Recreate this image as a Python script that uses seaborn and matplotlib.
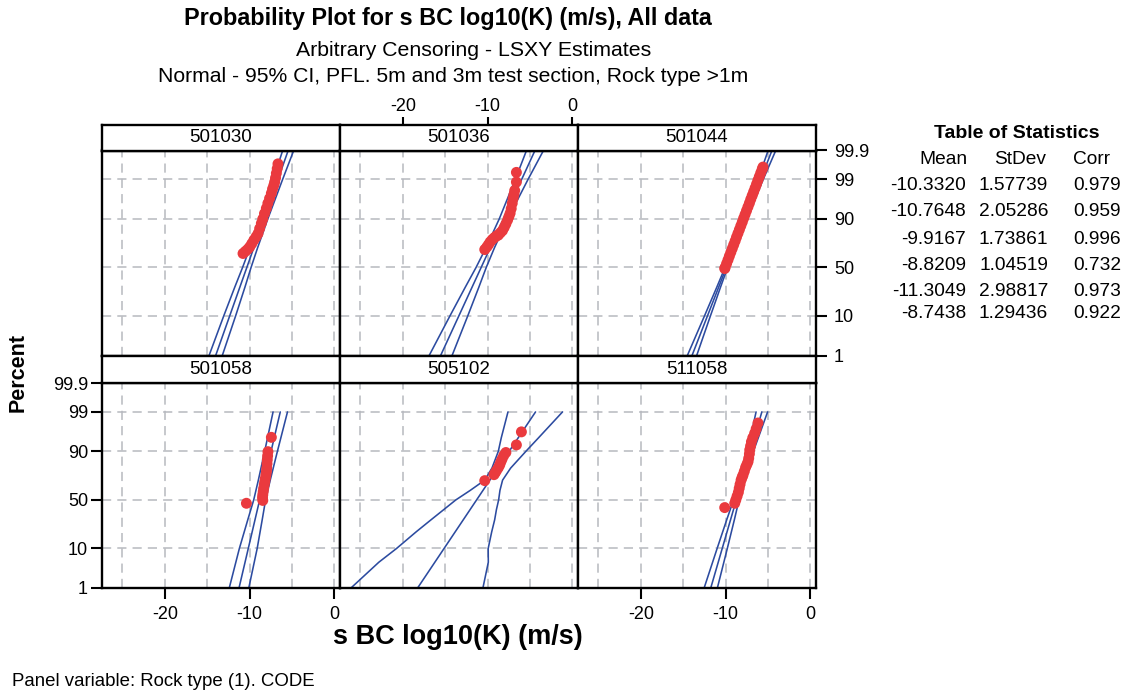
import numpy as np
import pandas as pd
import matplotlib
matplotlib.use("Agg")
import matplotlib.pyplot as plt
import seaborn as sns
from statistics import NormalDist

sns.set_style("white")
plt.rcParams["font.family"] = ["Liberation Sans", "DejaVu Sans"]
plt.rcParams["axes.unicode_minus"] = False
for key in ["text.color", "xtick.color", "ytick.color", "axes.labelcolor"]:
    plt.rcParams[key] = "black"

# ---------------- data ----------------
panels = ["501030", "501036", "501044", "501058", "505102", "511058"]
means = [-10.3320, -10.7648, -9.9167, -8.8209, -11.3049, -8.7438]
stdevs = [1.57739, 2.05286, 1.73861, 1.04519, 2.98817, 1.29436]
corrs = [0.979, 0.959, 0.996, 0.732, 0.973, 0.922]
mean_labels = ["-10.3320", "-10.7648", "-9.9167", "-8.8209", "-11.3049", "-8.7438"]
stdev_labels = ["1.57739", "2.05286", "1.73861", "1.04519", "2.98817", "1.29436"]
corr_labels = ["0.979", "0.959", "0.996", "0.732", "0.973", "0.922"]

# plotted points (value, percent)
x_501030 = [-10.78, -10.50, -10.22, -9.99, -9.75, -9.50, -9.25, -9.01, -8.82, -8.62, -8.45, -8.25,
            -8.03, -7.85, -7.65, -7.44, -7.30, -7.15, -7.05, -6.95, -6.85, -6.75, -6.66]
p_501030 = [64.4, 66.5, 68.5, 70.6, 73.5, 76.5, 79.0, 81.5, 84.8, 87.8, 90.0, 92.3,
            94.1, 95.5, 96.6, 97.5, 98.1, 98.5, 98.8, 99.1, 99.36, 99.55, 99.69]
x_501036 = [-10.34, -10.10, -9.90, -9.70, -9.45, -9.20, -8.95, -8.75, -8.50, -8.25, -8.05, -7.85,
            -7.65, -7.50, -7.35, -7.22, -7.10, -7.00, -6.90, -6.81, -6.61, -6.61]
p_501036 = [68.2, 70.5, 72.7, 75.0, 77.0, 78.5, 79.8, 80.3, 82.0, 83.5, 85.5, 87.5,
            89.5, 91.0, 92.4, 94.0, 95.5, 96.6, 97.3, 97.9, 98.8, 99.4]
x_501044 = [-10.11, -10.06, -9.89, -9.72, -9.56, -9.39, -9.22, -9.05, -8.88, -8.72, -8.55, -8.38,
            -8.21, -8.04, -7.88, -7.71, -7.54, -7.37, -7.20, -7.04, -6.87, -6.70, -6.53, -6.36,
            -6.20, -6.03, -5.86, -5.69, -5.60]
p_501044 = [48.8, 50.0, 53.98, 57.93, 61.79, 65.54, 69.15, 72.57, 75.80, 78.81, 81.59, 84.13,
            86.43, 88.49, 90.32, 91.92, 93.32, 94.52, 95.54, 96.41, 97.13, 97.72, 98.21, 98.61,
            98.93, 99.18, 99.38, 99.53, 99.60]
x_501058 = [-10.38, -8.45, -8.48, -8.45, -8.40, -8.35, -8.28, -8.22, -8.15, -8.08, -8.02, -7.98,
            -7.95, -7.92, -7.88, -7.84, -7.44]
p_501058 = [46.5, 49.5, 52.5, 55.5, 58.7, 62.0, 65.5, 68.5, 71.5, 74.5, 77.3, 80.0,
            83.0, 85.5, 87.8, 89.9, 95.1]
x_505102 = [-10.34, -9.25, -9.10, -8.95, -8.75, -8.58, -8.45, -8.30, -8.10, -7.85, -6.61, -6.02]
p_505102 = [69.5, 74.8, 76.5, 78.2, 80.2, 82.2, 84.2, 86.0, 88.0, 89.5, 92.7, 96.4]
x_511058 = [-10.11, -8.93, -8.80, -8.65, -8.50, -8.40, -8.30, -8.18, -8.06, -7.95, -7.80, -7.65,
            -7.50, -7.36, -7.28, -7.20, -7.16, -7.06, -6.96, -6.80, -6.58, -6.40, -6.19]
p_511058 = [42.0, 46.5, 50.0, 54.0, 58.0, 62.1, 66.0, 70.0, 72.5, 74.5, 77.5, 80.5,
            82.5, 84.4, 86.5, 88.8, 90.7, 92.3, 93.8, 95.0, 96.1, 97.0, 97.9]

# 95% CI half-widths at percent levels
ci_pct_top = [1, 10, 30, 50, 70, 90, 99, 99.9]
ci_pct_bottom = [1, 10, 30, 50, 70, 90, 99]
ci_pct_505102 = [1, 5, 10, 20, 30, 40, 50, 60, 70, 80, 90, 95, 99]
ci_lo_501030 = [0.78, 0.70, 0.60, 0.50, 0.45, 0.45, 0.55, 0.65]
ci_hi_501030 = [0.78, 0.70, 0.60, 0.50, 0.45, 0.45, 0.55, 0.65]
ci_lo_501036 = [1.35, 1.05, 0.80, 0.60, 0.50, 0.50, 0.75, 1.00]
ci_hi_501036 = [1.35, 1.05, 0.80, 0.60, 0.50, 0.50, 0.75, 1.00]
ci_lo_501044 = [0.55, 0.35, 0.22, 0.15, 0.15, 0.20, 0.30, 0.45]
ci_hi_501044 = [0.55, 0.35, 0.22, 0.15, 0.15, 0.20, 0.30, 0.45]
ci_lo_501058 = [1.15, 1.05, 0.85, 0.70, 0.70, 0.75, 0.85]
ci_hi_501058 = [1.15, 1.05, 0.85, 0.70, 0.70, 0.75, 0.85]
ci_lo_505102 = [7.85, 6.60, 5.60, 4.60, 3.80, 3.10, 2.45, 1.50, 0.60, 0.70, 1.27, 2.00, 3.25]
ci_hi_505102 = [7.70, 6.30, 5.20, 4.30, 3.70, 3.10, 2.60, 2.00, 1.50, 1.50, 1.97, 2.40, 3.18]
ci_lo_511058 = [0.78, 0.60, 0.45, 0.32, 0.28, 0.35, 0.68]
ci_hi_511058 = [0.78, 0.60, 0.45, 0.32, 0.28, 0.35, 0.68]

xs_pts = [x_501030, x_501036, x_501044, x_501058, x_505102, x_511058]
ps_pts = [p_501030, p_501036, p_501044, p_501058, p_505102, p_511058]
ci_pcts = [ci_pct_top, ci_pct_top, ci_pct_top, ci_pct_bottom, ci_pct_505102, ci_pct_bottom]
ci_los = [ci_lo_501030, ci_lo_501036, ci_lo_501044, ci_lo_501058, ci_lo_505102, ci_lo_511058]
ci_his = [ci_hi_501030, ci_hi_501036, ci_hi_501044, ci_hi_501058, ci_hi_505102, ci_hi_511058]

x_ticks = [-20, -10, 0]
x_tick_labels = ["-20", "-10", "0"]
y_ticks_pct = [1, 10, 50, 90, 99, 99.9]
y_tick_labels = ["1", "10", "50", "90", "99", "99.9"]
x_grid = [-25, -20, -15, -10, -5, 0]
y_grid_pct = [10, 50, 90, 99]

# ---------------- style ----------------
RED = "#ea3a3e"
BLUE = "#2c4ba0"
GRID = "#b7b9bf"
W, H = 1128, 692
XLIM = (-27.4, 0.65)
nd = NormalDist()
zq = lambda p: nd.inv_cdf(p / 100.0)
ZLIM = (zq(1), zq(99.9))
TICK_FS = 13

fig = plt.figure(figsize=(W / 100, H / 100), dpi=100)


def rect(l, t, r, b):
    return [l / W, 1 - b / H, (r - l) / W, (b - t) / H]


col_left = [102, 340, 578]
col_w = 238
row_plot = [(150.5, 355.5), (383, 588)]
row_head = [(125, 150.5), (355.5, 383)]

for i, name in enumerate(panels):
    r, c = divmod(i, 3)
    l = col_left[c]
    ax = fig.add_axes(rect(l, row_plot[r][0], l + col_w, row_plot[r][1]))
    hax = fig.add_axes(rect(l, row_head[r][0], l + col_w, row_head[r][1]))
    for a in (ax, hax):
        a.set_xlim(*XLIM)
        a.set_facecolor("white")
        for s in a.spines.values():
            s.set_linewidth(1.7)
            s.set_color("black")
        a.tick_params(which="both", bottom=False, top=False, left=False, right=False,
                      labelbottom=False, labeltop=False, labelleft=False, labelright=False)
    ax.set_ylim(*ZLIM)
    hax.set_ylim(0, 1)
    hax.set_yticks([])
    hax.text(0.5, 0.5, name, transform=hax.transAxes, ha="center", va="center", fontsize=13.5)

    # grid
    for g in x_grid:
        ax.axvline(g, color=GRID, lw=1.1, ls=(0, (6, 4)), zorder=0)
    for g in y_grid_pct:
        ax.axhline(zq(g), color=GRID, lw=1.1, ls=(0, (6, 4)), zorder=0)

    # fit line and CI bands
    mu, sd = means[i], stdevs[i]
    zs = np.array([zq(p) for p in ci_pcts[i]])
    fit = mu + sd * zs
    lo = fit - np.array(ci_los[i])
    hi = fit + np.array(ci_his[i])
    for xs in (lo, fit, hi):
        sns.lineplot(x=xs, y=zs, ax=ax, sort=False, estimator=None, color=BLUE,
                     linewidth=1.15, legend=False, zorder=2)

    # points
    pz = [zq(p) for p in ps_pts[i]]
    sns.scatterplot(x=xs_pts[i], y=pz, ax=ax, color=RED, s=62, linewidth=0,
                    edgecolor="none", legend=False, zorder=3)
    ax.set_xlabel("")
    ax.set_ylabel("")
    ax.set_xlim(*XLIM)
    ax.set_ylim(*ZLIM)

    # ticks (Minitab alternating style)
    if r == 1 and c in (0, 2):
        ax.set_xticks(x_ticks)
        ax.set_xticklabels(x_tick_labels)
        ax.tick_params(axis="x", bottom=True, labelbottom=True, direction="out",
                       length=8, width=1.5, pad=5, labelsize=TICK_FS)
    if r == 0 and c == 1:
        hax.set_xticks(x_ticks)
        hax.set_xticklabels(x_tick_labels)
        hax.tick_params(axis="x", top=True, labeltop=True, bottom=False, labelbottom=False,
                        direction="out", length=6, width=1.5, pad=1, labelsize=TICK_FS)
    if r == 0 and c == 2:
        ax.set_yticks([zq(p) for p in y_ticks_pct])
        ax.set_yticklabels(y_tick_labels)
        ax.tick_params(axis="y", right=True, labelright=True, direction="out",
                       length=8, width=1.5, pad=5, labelsize=TICK_FS)
    if r == 1 and c == 0:
        ax.set_yticks([zq(p) for p in y_ticks_pct])
        ax.set_yticklabels(y_tick_labels)
        ax.tick_params(axis="y", left=True, labelleft=True, direction="out",
                       length=8, width=1.5, pad=2, labelsize=TICK_FS)


def ftext(px, py, s, **kw):
    fig.text(px / W, 1 - py / H, s, **kw)


ftext(448, 18, "Probability Plot for s BC log10(K) (m/s), All data", ha="center", va="center",
      fontsize=16.8, fontweight="bold")
ftext(474, 50, "Arbitrary Censoring - LSXY Estimates", ha="center", va="center", fontsize=15.3)
ftext(453, 76, "Normal - 95% CI, PFL. 5m and 3m test section, Rock type >1m", ha="center",
      va="center", fontsize=15.2)
ftext(458, 637, "s BC log10(K) (m/s)", ha="center", va="center", fontsize=19.5, fontweight="bold")
ftext(18, 372, "Percent", ha="center", va="center", rotation=90, fontsize=15.5, fontweight="bold")
ftext(12, 681, "Panel variable: Rock type (1). CODE", ha="left", va="center", fontsize=13.4)

# table of statistics
TFS = 13.8
ftext(1017, 133, "Table of Statistics", ha="center", va="center", fontsize=14, fontweight="bold")
ftext(943, 160, "Mean", ha="center", va="center", fontsize=TFS)
ftext(1020, 160, "StDev", ha="center", va="center", fontsize=TFS)
ftext(1092, 160, "Corr", ha="center", va="center", fontsize=TFS)
row_y = [186, 212, 239, 265, 291, 313]
for k in range(len(panels)):
    ftext(966, row_y[k], mean_labels[k], ha="right", va="center", fontsize=TFS)
    ftext(1048, row_y[k], stdev_labels[k], ha="right", va="center", fontsize=TFS)
    ftext(1121, row_y[k], corr_labels[k], ha="right", va="center", fontsize=TFS)

fig.savefig("out.png", dpi=100)
